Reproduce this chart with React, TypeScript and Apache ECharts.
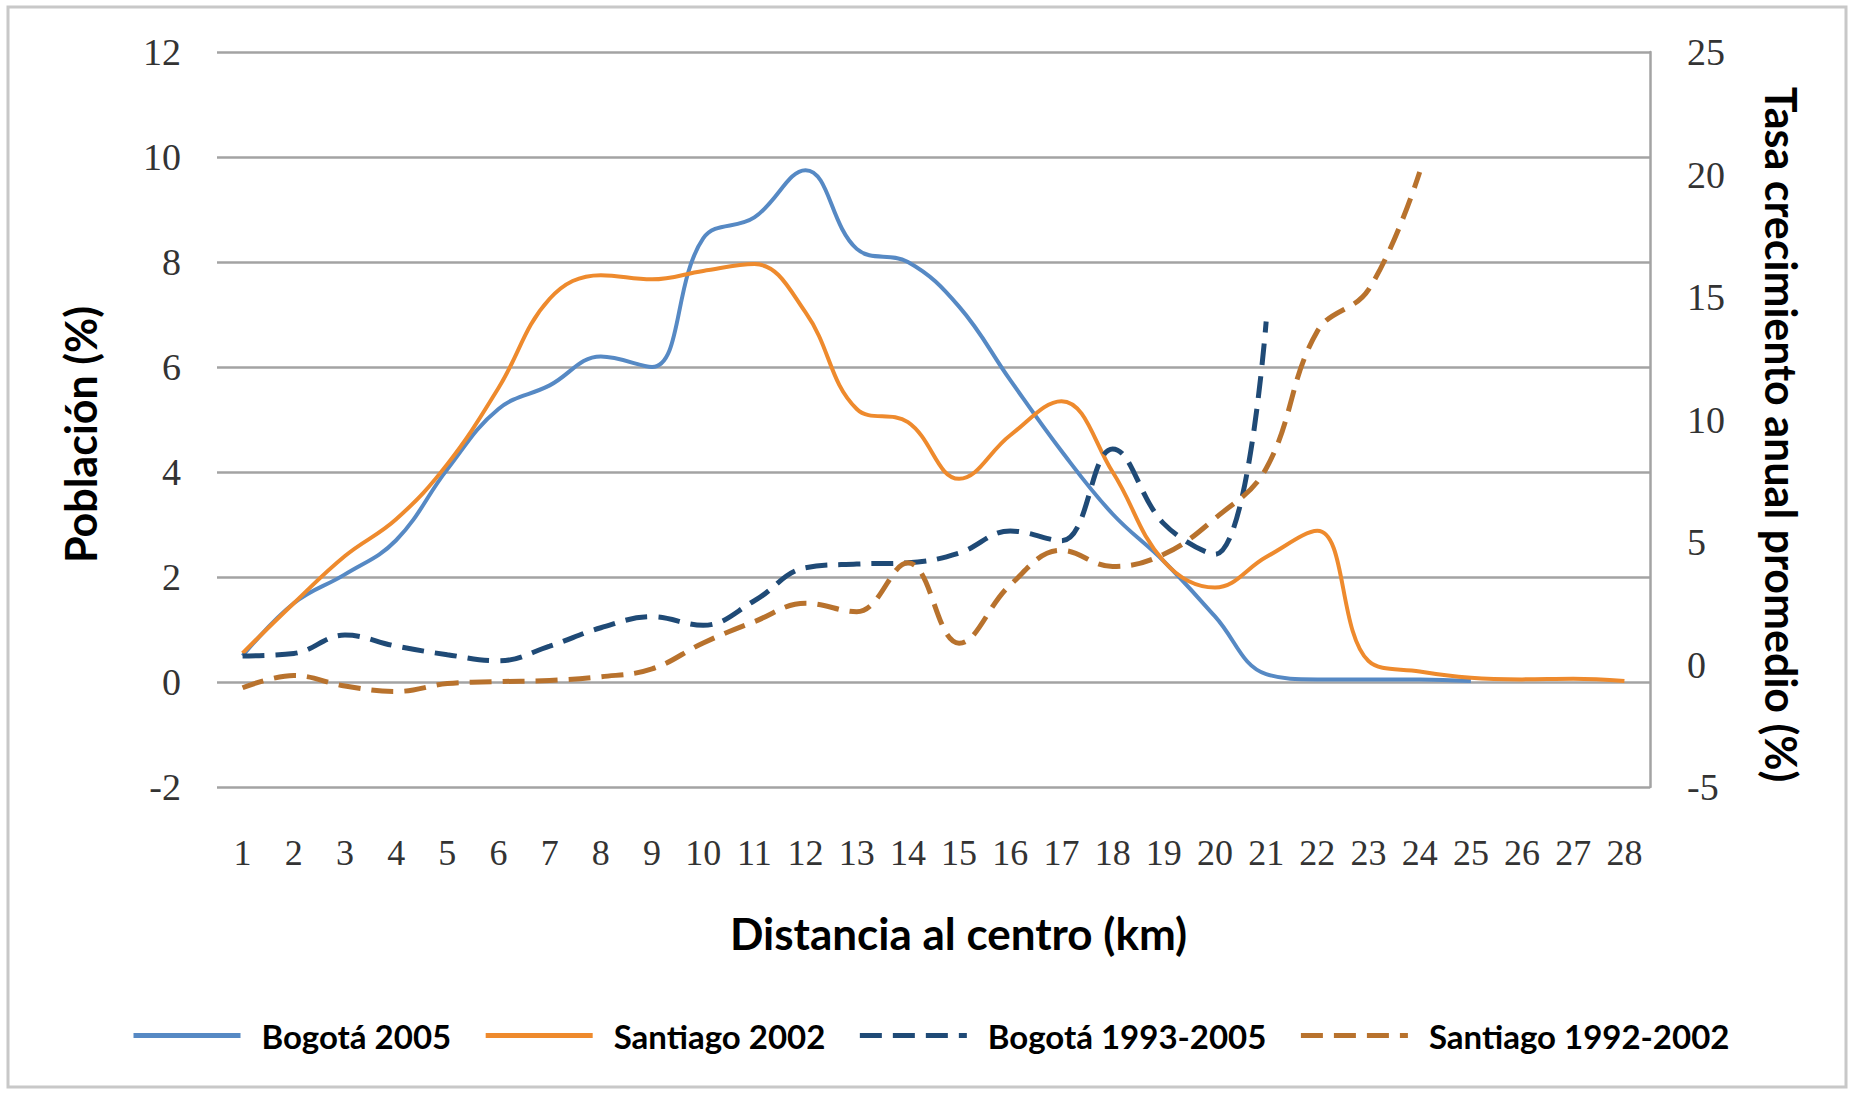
import React, { useEffect, useRef } from "react";
import * as echarts from "echarts";

const categories = [
  "1", "2", "3", "4", "5", "6", "7", "8", "9", "10", "11", "12", "13", "14",
  "15", "16", "17", "18", "19", "20", "21", "22", "23", "24", "25", "26", "27", "28",
];

// Población (%) — left axis
const bogota2005 = [
  0.5, 1.5, 2.05, 2.7, 4.05, 5.2, 5.65, 6.2, 6.0, 8.45, 8.85, 9.75, 8.25, 8.0,
  7.15, 5.75, 4.4, 3.2, 2.3, 1.25, 0.15, 0.05, 0.05, 0.05, 0.02, null, null, null,
];
const santiago2002 = [
  0.55, 1.5, 2.4, 3.1, 4.15, 5.6, 7.3, 7.75, 7.67, 7.83, 7.96, 7.04, 5.2, 4.95,
  3.87, 4.7, 5.35, 4.0, 2.3, 1.8, 2.38, 2.88, 0.4, 0.2, 0.08, 0.05, 0.06, 0.02,
];

// Tasa crecimiento anual promedio (%) — right axis
const bogota1993_2005 = [
  0.35, 0.45, 1.2, 0.75, 0.4, 0.15, 0.75, 1.5, 1.95, 1.6, 2.6, 3.95, 4.1, 4.15,
  4.55, 5.45, 5.05, 8.8, 5.75, 4.5, 14.0, null, null, null, null, null, null, null,
];
const santiago1992_2002 = [
  -0.95, -0.45, -0.88, -1.1, -0.78, -0.7, -0.65, -0.5, -0.18, 0.88, 1.75, 2.5, 2.15, 4.15,
  0.87, 3.25, 4.66, 4.0, 4.5, 5.96, 8.0, 13.6, 15.3, 20.1, null, null, null, null,
];

const seriesNames = ["Bogotá 2005", "Santiago 2002", "Bogotá 1993-2005", "Santiago 1992-2002"];
const leftAxis = { min: -2, max: 12, interval: 2 };
const rightAxis = { min: -5, max: 25, interval: 5 };

const nameFont = "Lato, 'Open Sans', sans-serif";
const tickFont = "'Liberation Serif', 'DejaVu Serif', serif";

export default function App() {
  const ref = useRef<HTMLDivElement>(null);
  useEffect(() => {
    document.body.style.margin = "0";
    const chart = echarts.init(ref.current!, null, { renderer: "svg" });
    chart.setOption({
      animation: false,
      backgroundColor: "#ffffff",
      graphic: [
        {
          type: "rect",
          shape: { x: 8, y: 7, width: 1838, height: 1080 },
          style: { fill: "none", stroke: "#c8c8c8", lineWidth: 3 },
          silent: true,
        },
      ],
      grid: { left: 217, right: 206, top: 52, bottom: 306 },
      legend: {
        data: seriesNames,
        left: 126,
        top: 1014,
        itemWidth: 107,
        itemHeight: 14,
        itemGap: 32,
        lineStyle: { width: 5 },
        itemStyle: { opacity: 0 },
        textStyle: {
          fontFamily: nameFont,
          fontWeight: "bold",
          fontSize: 33,
          color: "#000",
          padding: [0, 0, 0, 16],
        },
      },
      xAxis: {
        type: "category",
        data: categories,
        boundaryGap: true,
        name: "Distancia al centro (km)",
        nameLocation: "middle",
        nameGap: 124,
        nameTextStyle: {
          fontFamily: nameFont,
          fontWeight: "bold",
          fontSize: 44,
          color: "#000",
          padding: [0, 0, 0, 50],
        },
        axisLine: { show: false },
        axisTick: { show: false },
        axisLabel: {
          fontFamily: tickFont,
          fontSize: 36,
          color: "#333",
          margin: 48,
          interval: 0,
        },
      },
      yAxis: [
        {
          type: "value",
          position: "left",
          min: leftAxis.min,
          max: leftAxis.max,
          interval: leftAxis.interval,
          name: "Población (%)",
          nameLocation: "middle",
          nameRotate: 90,
          nameGap: 115,
          nameTextStyle: {
            fontFamily: nameFont,
            fontWeight: "bold",
            fontSize: 43,
            color: "#000",
            padding: [0, 30, 0, 0],
          },
          axisLine: { show: false },
          axisTick: { show: false },
          axisLabel: {
            fontFamily: tickFont,
            fontSize: 38,
            color: "#333",
            margin: 36,
          },
          splitLine: { show: true, lineStyle: { color: "#a3a3a3", width: 2.5 } },
        },
        {
          type: "value",
          position: "right",
          min: rightAxis.min,
          max: rightAxis.max,
          interval: rightAxis.interval,
          name: "Tasa crecimiento anual promedio (%)",
          nameLocation: "middle",
          nameRotate: -90,
          nameGap: 110,
          nameTextStyle: {
            fontFamily: nameFont,
            fontWeight: "bold",
            fontSize: 43,
            color: "#000",
            padding: [0, 0, 0, 30],
          },
          axisLine: { show: true, lineStyle: { color: "#a3a3a3", width: 2.5 } },
          axisTick: { show: false },
          axisLabel: {
            fontFamily: tickFont,
            fontSize: 38,
            color: "#333",
            margin: 37,
          },
          splitLine: { show: false },
        },
      ],
      series: [
        {
          name: seriesNames[0],
          type: "line",
          yAxisIndex: 0,
          data: bogota2005,
          smooth: 0.4,
          symbol: "none",
          lineStyle: { color: "#5689c4", width: 4 },
          itemStyle: { color: "#5689c4" },
          z: 3,
        },
        {
          name: seriesNames[1],
          type: "line",
          yAxisIndex: 0,
          data: santiago2002,
          smooth: 0.4,
          symbol: "none",
          lineStyle: { color: "#ee8a2d", width: 4 },
          itemStyle: { color: "#ee8a2d" },
          z: 4,
        },
        {
          name: seriesNames[2],
          type: "line",
          yAxisIndex: 1,
          data: bogota1993_2005,
          smooth: 0.4,
          symbol: "none",
          lineStyle: { color: "#1f4a76", width: 5, type: [22, 11] },
          itemStyle: { color: "#1f4a76" },
          z: 5,
        },
        {
          name: seriesNames[3],
          type: "line",
          yAxisIndex: 1,
          data: santiago1992_2002,
          smooth: 0.4,
          symbol: "none",
          lineStyle: { color: "#b8722d", width: 5, type: [22, 11] },
          itemStyle: { color: "#b8722d" },
          z: 5,
        },
      ],
    });
    return () => chart.dispose();
  }, []);
  return <div ref={ref} style={{ width: 1856, height: 1093 }} />;
}
